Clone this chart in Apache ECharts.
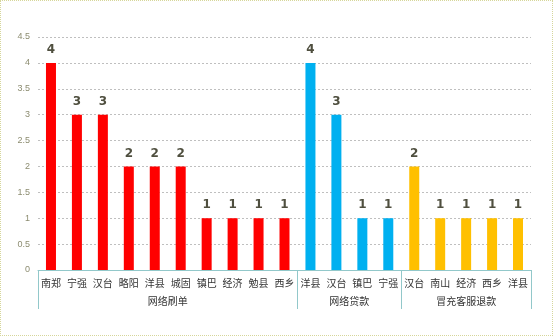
<!DOCTYPE html>
<html><head><meta charset="utf-8">
<script src="https://cdn.jsdelivr.net/npm/echarts@6/dist/echarts.min.js"></script>
<style>
html,body{margin:0;padding:0;background:#fff;}
#frame{position:absolute;left:0;top:0;width:553px;height:336px;box-sizing:border-box;border:1px dotted #d6d69a;pointer-events:none;z-index:2;}
#c{position:absolute;left:0;top:0;width:553px;height:336px;}
</style></head>
<body><div id="c"></div><div id="frame"></div>
<script>
const categories = ['南郑','宁强','汉台','略阳','洋县','城固','镇巴','经济','勉县','西乡','洋县','汉台','镇巴','宁强','汉台','南山','经济','西乡','洋县'];
const groups = ['网络刷单','网络贷款','冒充客服退款'];
const groupSizes = [10,4,5];
const valuesShuadan = [4,3,3,2,2,2,1,1,1,1];
const valuesDaikuan = [4,3,1,1];
const valuesKefu = [2,1,1,1,1];
const colors = ['#ff0000','#00b0f0','#ffc000'];

const seriesVals = [valuesShuadan, valuesDaikuan, valuesKefu];
const total = categories.length;
let start = 0;
const bounds = [0];
const centers = [];
const series = seriesVals.map((vals, gi) => {
  const data = new Array(total).fill(null);
  vals.forEach((v, i) => { data[start + i] = v; });
  centers.push(start + groupSizes[gi] / 2);
  start += groupSizes[gi];
  bounds.push(start);
  return {
    type: 'bar', name: groups[gi], data: data, barWidth: 10, barGap: '-100%',
    itemStyle: { color: colors[gi] },
    label: { show: true, position: 'top', distance: 7, color: '#4f4f3f', fontWeight: 'bold', fontSize: 12, fontFamily: 'DejaVu Sans' }
  };
});

const chart = echarts.init(document.getElementById('c'));
chart.setOption({
  animation: false,
  grid: { left: 38, right: 22, top: 37, bottom: 66 },
  xAxis: [
    { type: 'category', data: categories, position: 'bottom',
      axisLine: { lineStyle: { color: '#92c8ca', width: 1 } },
      axisTick: { show: false },
      axisLabel: { color: '#333333', fontSize: 10, margin: 8, fontFamily: 'Noto Sans CJK SC', interval: 0 } },
    { type: 'value', min: 0, max: total, position: 'bottom',
      axisLine: { show: false }, splitLine: { show: false },
      axisTick: { show: true, length: 39, customValues: bounds, lineStyle: { color: '#92c8ca' } },
      axisLabel: { customValues: centers, margin: 26, fontSize: 10, color: '#333333', fontFamily: 'Noto Sans CJK SC',
        formatter: (v) => { const i = centers.indexOf(v); return i >= 0 ? groups[i] : ''; } } }
  ],
  yAxis: { type: 'value', min: 0, max: 4.5, interval: 0.5,
    axisLine: { show: false }, axisTick: { show: false },
    axisLabel: { color: '#8c8c70', fontSize: 9, margin: 8, fontFamily: 'Liberation Sans' },
    splitLine: { lineStyle: { color: '#bfbfbf', type: [2, 2] } } },
  series: series
});
</script></body></html>
